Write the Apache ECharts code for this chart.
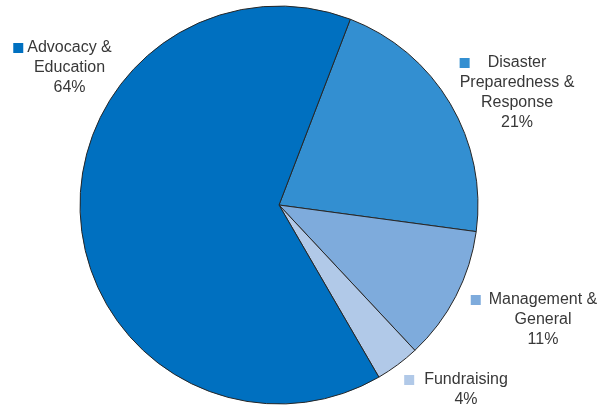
<!DOCTYPE html>
<html>
<head>
<meta charset="utf-8">
<script src="https://cdn.jsdelivr.net/npm/echarts@6/dist/echarts.min.js"></script>
<style>html,body{margin:0;padding:0;background:#fff;}#c{width:616px;height:411px;}</style>
</head>
<body>
<div id="c"></div>
<script>
const categories = ['Disaster Preparedness & Response', 'Management & General', 'Fundraising', 'Advocacy & Education'];
const labelLines = [['Disaster', 'Preparedness &', 'Response'], ['Management &', 'General'], ['Fundraising'], ['Advocacy &', 'Education']];
const values = [21.3, 10.9, 3.6, 64.2];
const percentLabels = ['21%', '11%', '4%', '64%'];
const colors = ['#338fd1', '#7eabdc', '#b1c9e8', '#0070c0'];

// label layout (text center x, first line top y, marker gap)
const labelPos = [[517, 53, 6], [543, 290, 8], [466, 370, 10], [69.5, 38, 4]];

const chart = echarts.init(document.getElementById('c'), null, {renderer: 'canvas'});
const rich = {
  t: {fontFamily: 'Liberation Sans, Arial', fontSize: 16, color: '#383838', lineHeight: 20, align: 'center'}
};
colors.forEach((c, i) => {
  rich['sq' + i] = {width: 10, height: 10, backgroundColor: c, align: 'left', lineHeight: 20};
  rich['gap' + i] = {width: labelPos[i][2], height: 10, align: 'left', lineHeight: 20};
  rich['sp' + i] = {width: 10 + labelPos[i][2], height: 10, align: 'right', lineHeight: 20};
});

chart.setOption({
  animation: false,
  series: [{
    type: 'pie',
    center: [279, 205],
    radius: 199,
    startAngle: 69,
    clockwise: true,
    avoidLabelOverlap: false,
    data: categories.map((n, i) => ({name: n, value: values[i], itemStyle: {color: colors[i]}})),
    itemStyle: {borderColor: '#262626', borderWidth: 1},
    emphasis: {disabled: true},
    labelLine: {show: false},
    label: {
      show: true,
      position: 'outside',
      align: 'center',
      rich: rich,
      formatter: p => {
        const i = p.dataIndex;
        const lines = labelLines[i];
        let s = '{sq' + i + '|}{gap' + i + '|}{t|' + lines[0] + '}{sp' + i + '|}';
        for (let k = 1; k < lines.length; k++) s += '\n{t|' + lines[k] + '}';
        s += '\n{t|' + percentLabels[i] + '}';
        return s;
      }
    },
    labelLayout: p => ({
      x: labelPos[p.dataIndex][0],
      y: labelPos[p.dataIndex][1],
      align: 'center',
      verticalAlign: 'top'
    })
  }]
});
</script>
</body>
</html>
